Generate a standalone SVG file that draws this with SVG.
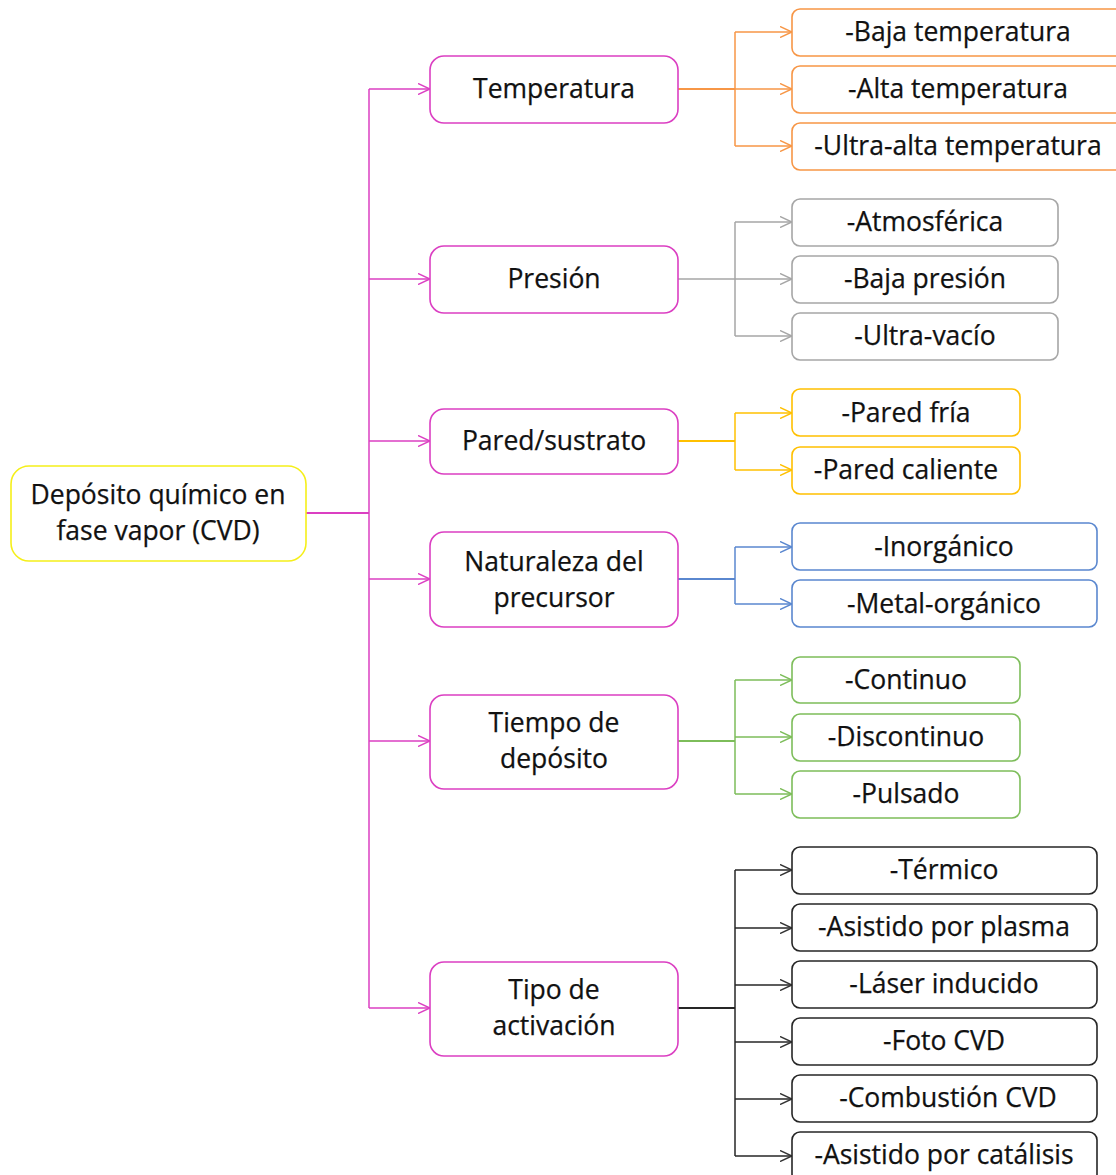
<svg xmlns="http://www.w3.org/2000/svg" width="1116" height="1175" viewBox="0 0 1116 1175">
<style>
text{font-family:"Open Sans","Liberation Sans",sans-serif;font-size:26.5px;fill:#111;text-anchor:middle;stroke:#111;stroke-width:0.25}
.box{fill:#fff;stroke-width:1.6}
.l1{stroke:#DB3FC2}
.root{stroke:#F5EF1A}
.or{stroke:#F79646}.gr{stroke:#A6A6A6}.go{stroke:#FFC000}.bl{stroke:#5A87CF}.gn{stroke:#7DBD5A}.bk{stroke:#262626}
.c{fill:none;stroke-width:1.5}
.s{fill:none;stroke-width:2.2}
</style>
<defs>
<marker id="aM" viewBox="0 0 12 12" refX="12" refY="6" markerWidth="12" markerHeight="12" markerUnits="userSpaceOnUse" orient="auto"><path d="M0,0.5 L12,6 L0,11.5" fill="none" stroke="#DB3FC2" stroke-width="1.5"/></marker>
<marker id="aO" viewBox="0 0 12 12" refX="12" refY="6" markerWidth="12" markerHeight="12" markerUnits="userSpaceOnUse" orient="auto"><path d="M0,0.5 L12,6 L0,11.5" fill="none" stroke="#F79646" stroke-width="1.5"/></marker>
<marker id="aG" viewBox="0 0 12 12" refX="12" refY="6" markerWidth="12" markerHeight="12" markerUnits="userSpaceOnUse" orient="auto"><path d="M0,0.5 L12,6 L0,11.5" fill="none" stroke="#A6A6A6" stroke-width="1.5"/></marker>
<marker id="aY" viewBox="0 0 12 12" refX="12" refY="6" markerWidth="12" markerHeight="12" markerUnits="userSpaceOnUse" orient="auto"><path d="M0,0.5 L12,6 L0,11.5" fill="none" stroke="#FFC000" stroke-width="1.5"/></marker>
<marker id="aB" viewBox="0 0 12 12" refX="12" refY="6" markerWidth="12" markerHeight="12" markerUnits="userSpaceOnUse" orient="auto"><path d="M0,0.5 L12,6 L0,11.5" fill="none" stroke="#5A87CF" stroke-width="1.5"/></marker>
<marker id="aN" viewBox="0 0 12 12" refX="12" refY="6" markerWidth="12" markerHeight="12" markerUnits="userSpaceOnUse" orient="auto"><path d="M0,0.5 L12,6 L0,11.5" fill="none" stroke="#7DBD5A" stroke-width="1.5"/></marker>
<marker id="aK" viewBox="0 0 12 12" refX="12" refY="6" markerWidth="12" markerHeight="12" markerUnits="userSpaceOnUse" orient="auto"><path d="M0,0.5 L12,6 L0,11.5" fill="none" stroke="#333" stroke-width="1.5"/></marker>
</defs>
<rect width="1116" height="1175" fill="#fff"/>
<g id="connectors">
<path class="s l1" d="M306,513 H369"/>
<path class="c l1" d="M369,89 V1008"/>
<path class="c l1" marker-end="url(#aM)" d="M369,89 H430"/>
<path class="c l1" marker-end="url(#aM)" d="M369,279 H430"/>
<path class="c l1" marker-end="url(#aM)" d="M369,441 H430"/>
<path class="c l1" marker-end="url(#aM)" d="M369,579 H430"/>
<path class="c l1" marker-end="url(#aM)" d="M369,741 H430"/>
<path class="c l1" marker-end="url(#aM)" d="M369,1008 H430"/>
<path class="s or" d="M678,89 H735"/>
<path class="c or" d="M735,32 V146"/>
<path class="c or" marker-end="url(#aO)" d="M735,32 H792"/>
<path class="c or" marker-end="url(#aO)" d="M735,89 H792"/>
<path class="c or" marker-end="url(#aO)" d="M735,146 H792"/>
<path class="c gr" d="M678,279 H735"/>
<path class="c gr" d="M735,222 V336"/>
<path class="c gr" marker-end="url(#aG)" d="M735,222 H792"/>
<path class="c gr" marker-end="url(#aG)" d="M735,279 H792"/>
<path class="c gr" marker-end="url(#aG)" d="M735,336 H792"/>
<path class="s go" d="M678,441 H735"/>
<path class="c go" d="M735,413 V470"/>
<path class="c go" marker-end="url(#aY)" d="M735,413 H792"/>
<path class="c go" marker-end="url(#aY)" d="M735,470 H792"/>
<path class="s bl" d="M678,579 H735"/>
<path class="c bl" d="M735,547 V604"/>
<path class="c bl" marker-end="url(#aB)" d="M735,547 H792"/>
<path class="c bl" marker-end="url(#aB)" d="M735,604 H792"/>
<path class="s gn" d="M678,741 H735"/>
<path class="c gn" d="M735,680 V794"/>
<path class="c gn" marker-end="url(#aN)" d="M735,680 H792"/>
<path class="c gn" marker-end="url(#aN)" d="M735,737 H792"/>
<path class="c gn" marker-end="url(#aN)" d="M735,794 H792"/>
<path class="s bk" d="M678,1008 H735"/>
<path class="c bk" d="M735,870 V1156"/>
<path class="c bk" marker-end="url(#aK)" d="M735,870 H792"/>
<path class="c bk" marker-end="url(#aK)" d="M735,928 H792"/>
<path class="c bk" marker-end="url(#aK)" d="M735,985 H792"/>
<path class="c bk" marker-end="url(#aK)" d="M735,1042 H792"/>
<path class="c bk" marker-end="url(#aK)" d="M735,1099 H792"/>
<path class="c bk" marker-end="url(#aK)" d="M735,1156 H792"/>
</g>
<g id="root"><rect class="box root" x="11" y="466" width="295" height="95" rx="18"/><text x="158" y="504">Depósito químico en</text><text x="158" y="540">fase vapor (CVD)</text></g>
<g id="temperatura"><rect class="box l1" x="430" y="56" width="248" height="67" rx="14"/><text x="554" y="98">Temperatura</text></g>
<g id="presion"><rect class="box l1" x="430" y="246" width="248" height="67" rx="14"/><text x="554" y="288">Presión</text></g>
<g id="pared"><rect class="box l1" x="430" y="409" width="248" height="65" rx="14"/><text x="554" y="450">Pared/sustrato</text></g>
<g id="naturaleza"><rect class="box l1" x="430" y="532" width="248" height="95" rx="14"/><text x="554" y="571">Naturaleza del</text><text x="554" y="607">precursor</text></g>
<g id="tiempo"><rect class="box l1" x="430" y="695" width="248" height="94" rx="14"/><text x="554" y="732">Tiempo de</text><text x="554" y="768">depósito</text></g>
<g id="tipo"><rect class="box l1" x="430" y="962" width="248" height="94" rx="14"/><text x="554" y="999">Tipo de</text><text x="554" y="1035">activación</text></g>
<g id="baja-temp"><rect class="box or" x="792" y="9" width="333" height="47" rx="8"/><text x="958" y="41">-Baja temperatura</text></g>
<g id="alta-temp"><rect class="box or" x="792" y="66" width="333" height="47" rx="8"/><text x="958" y="98">-Alta temperatura</text></g>
<g id="ultra-temp"><rect class="box or" x="792" y="123" width="333" height="47" rx="8"/><text x="958" y="155">-Ultra-alta temperatura</text></g>
<g id="atmosferica"><rect class="box gr" x="792" y="199" width="266" height="47" rx="8"/><text x="925" y="231">-Atmosférica</text></g>
<g id="baja-presion"><rect class="box gr" x="792" y="256" width="266" height="47" rx="8"/><text x="925" y="288">-Baja presión</text></g>
<g id="ultra-vacio"><rect class="box gr" x="792" y="313" width="266" height="47" rx="8"/><text x="925" y="345">-Ultra-vacío</text></g>
<g id="pared-fria"><rect class="box go" x="792" y="389" width="228" height="47" rx="8"/><text x="906" y="422">-Pared fría</text></g>
<g id="pared-caliente"><rect class="box go" x="792" y="447" width="228" height="47" rx="8"/><text x="906" y="479">-Pared caliente</text></g>
<g id="inorganico"><rect class="box bl" x="792" y="523" width="305" height="47" rx="8"/><text x="944" y="556">-Inorgánico</text></g>
<g id="metal-organico"><rect class="box bl" x="792" y="580" width="305" height="47" rx="8"/><text x="944" y="613">-Metal-orgánico</text></g>
<g id="continuo"><rect class="box gn" x="792" y="657" width="228" height="46" rx="8"/><text x="906" y="689">-Continuo</text></g>
<g id="discontinuo"><rect class="box gn" x="792" y="714" width="228" height="47" rx="8"/><text x="906" y="746">-Discontinuo</text></g>
<g id="pulsado"><rect class="box gn" x="792" y="771" width="228" height="47" rx="8"/><text x="906" y="803">-Pulsado</text></g>
<g id="termico"><rect class="box bk" x="792" y="847" width="305" height="47" rx="8"/><text x="944" y="879">-Térmico</text></g>
<g id="plasma"><rect class="box bk" x="792" y="904" width="305" height="47" rx="8"/><text x="944" y="936">-Asistido por plasma</text></g>
<g id="laser"><rect class="box bk" x="792" y="961" width="305" height="47" rx="8"/><text x="944" y="993">-Láser inducido</text></g>
<g id="foto"><rect class="box bk" x="792" y="1018" width="305" height="47" rx="8"/><text x="944" y="1050">-Foto CVD</text></g>
<g id="combustion"><rect class="box bk" x="792" y="1075" width="305" height="47" rx="8"/><text x="948" y="1107">-Combustión CVD</text></g>
<g id="catalisis"><rect class="box bk" x="792" y="1132" width="305" height="50" rx="8"/><text x="944" y="1164">-Asistido por catálisis</text></g>
</svg>
